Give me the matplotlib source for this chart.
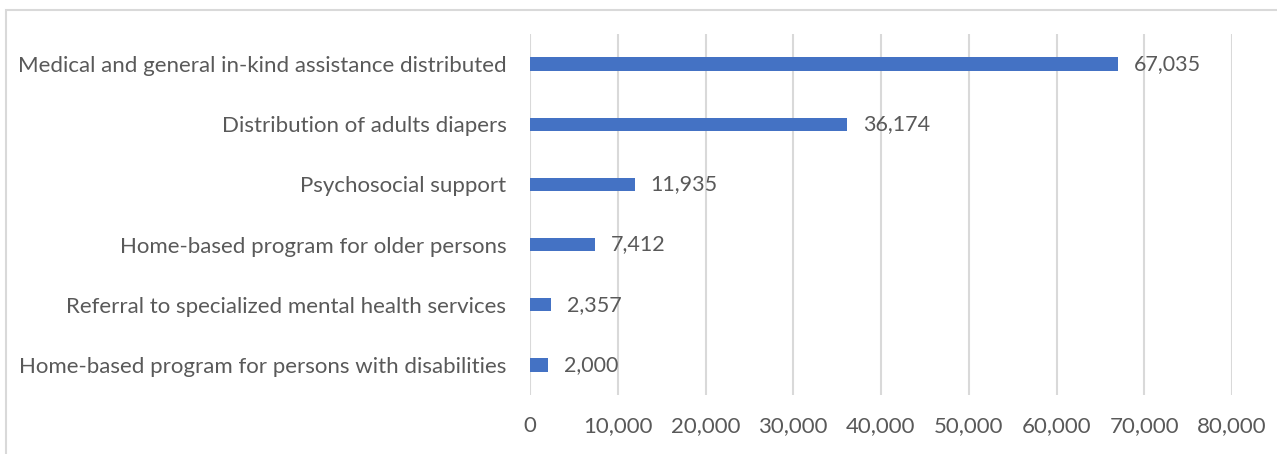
import matplotlib.pyplot as plt
from matplotlib.patches import Rectangle
from matplotlib.ticker import FuncFormatter

categories = [
    "Medical and general in-kind assistance distributed",
    "Distribution of adults diapers",
    "Psychosocial support",
    "Home-based program for older persons",
    "Referral to specialized mental health services",
    "Home-based program for persons with disabilities",
]
values = [67035, 36174, 11935, 7412, 2357, 2000]
xticks = [0, 10000, 20000, 30000, 40000, 50000, 60000, 70000, 80000]

text_color = "#595959"
bar_color = "#4472C4"
grid_color = "#D9D9D9"

plt.rcParams['font.family'] = ['Lato', 'DejaVu Sans']

fig = plt.figure(figsize=(12.77, 4.54), dpi=100)
ax = fig.add_axes([530 / 1277, 1 - 395 / 454, 702 / 1277, 361 / 454])

# outer chart border (cut off at right and bottom like the reference)
fig.patches.append(Rectangle((6 / 1277, -0.1), 1.5, 1 - 10 / 454 + 0.1,
                             transform=fig.transFigure, fill=False,
                             edgecolor=grid_color, linewidth=1.5, zorder=0))

ypos = list(range(len(categories)))
ax.barh(ypos, values, height=0.22, color=bar_color, zorder=3)
ax.set_ylim(len(categories) - 0.5, -0.5)
ax.set_xlim(0, 80000)
ax.set_yticks(ypos)
ax.set_yticklabels(categories)
ax.set_xticks(xticks)
ax.xaxis.set_major_formatter(FuncFormatter(lambda v, p: f"{int(v):,}"))

for y, v in zip(ypos, values):
    ax.annotate(f"{v:,}", (v, y), xytext=(11.5, 0), textcoords="offset points",
                ha="left", va="center", fontsize=15.5, color=text_color)

ax.grid(axis="x", color=grid_color, linewidth=1.5, zorder=0)
ax.set_axisbelow(True)
for s in ax.spines.values():
    s.set_visible(False)
ax.tick_params(axis="both", length=0, labelsize=16, labelcolor=text_color)
ax.tick_params(axis="y", pad=17)
ax.tick_params(axis="x", pad=15)

fig.savefig("out.png", dpi=100)
